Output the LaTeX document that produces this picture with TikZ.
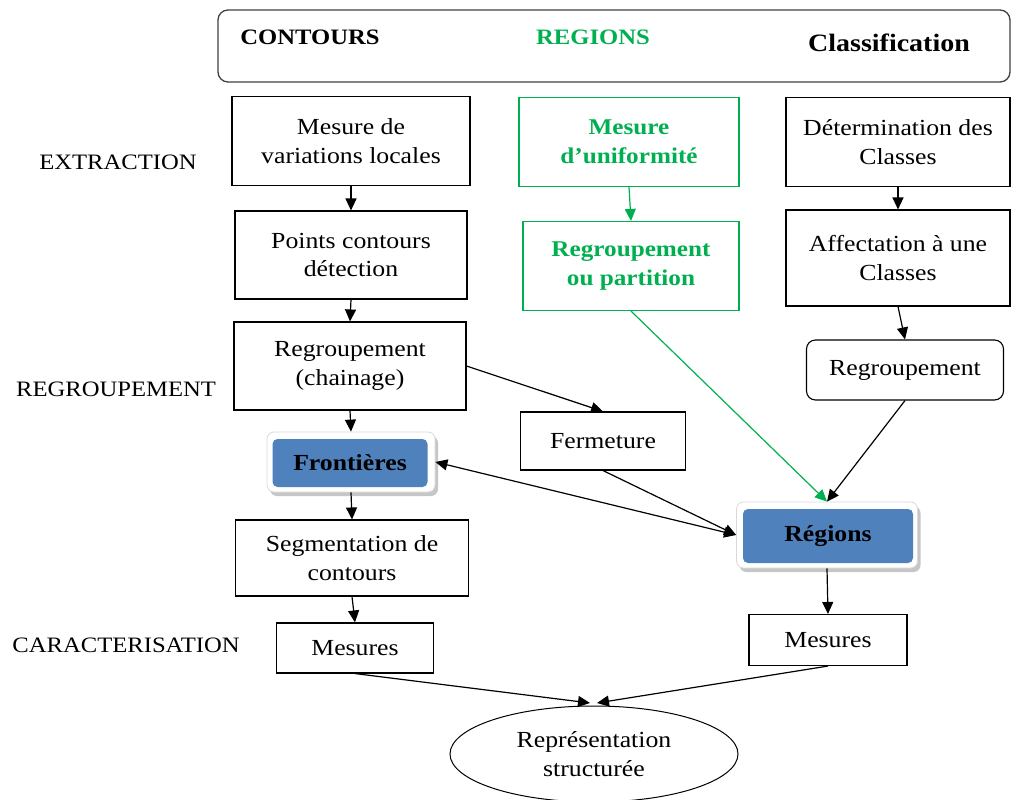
\documentclass[tikz,border=0pt]{standalone}
\usepackage{fontspec}
\setmainfont{Liberation Serif}[FakeStretch=1.12]
\usetikzlibrary{arrows.meta,shadows,shapes.geometric}
\definecolor{grn}{HTML}{00B050}
\definecolor{blu}{HTML}{4F81BD}
\begin{document}
\begin{tikzpicture}[x=1pt,y=-1pt,
  every node/.style={font=\fontsize{23}{28.5}\selectfont, align=center, inner sep=0pt},
  wh/.style 2 args={minimum width=#1pt, minimum height=#2pt},
  box/.style={draw, line width=1.1pt},
  gbox/.style={draw=grn, line width=1.1pt, text=grn, font=\fontsize{22.5}{28.5}\selectfont\bfseries},
  rbox/.style={draw, line width=1.1pt, rounded corners=9pt},
  frame/.style={draw=gray!30, fill=white, line width=0.8pt, rounded corners=7pt,
    drop shadow={shadow xshift=3pt, shadow yshift=-4pt, opacity=0.45, fill=gray}},
  bluebox/.style={fill=blu, rounded corners=5pt, font=\fontsize{23}{28}\selectfont\bfseries},
  lbl/.style={font=\fontsize{22}{26}\selectfont},
  head/.style={font=\fontsize{22}{26}\selectfont\bfseries},
  arr/.style={-{Triangle[length=12pt,width=11pt]}, line width=1.2pt},
  garr/.style={arr, draw=grn, color=grn},
  darr/.style={{Triangle[length=12pt,width=11pt]}-{Triangle[length=12pt,width=11pt]}, line width=1.2pt}
]
\useasboundingbox (0,0) rectangle (1013,800);

% header band
\node[draw=black!75, line width=1.3pt, rounded corners=10pt, wh={792}{72}] (hdr) at (614,46) {};
\node[head] (hc) at (310,37) {CONTOURS};
\node[head, text=grn] (hr) at (593,37) {REGIONS};
\node[head, font=\fontsize{25}{28}\selectfont\bfseries] (hk) at (889,43) {Classification};

% stage labels
\node[lbl] (lext) at (118,162) {EXTRACTION};
\node[lbl] (lreg) at (116,389) {REGROUPEMENT};
\node[lbl] (lcar) at (126,645) {CARACTERISATION};

% contours column
\node[box, wh={238}{89}] (c1) at (351,141) {Mesure de\\variations locales};
\node[box, wh={232}{88}] (c2) at (351,255) {Points contours\\détection};
\node[box, wh={232}{88}] (c3) at (350,366) {Regroupement\\(chainage)};
\node[frame, wh={168}{60}] (front) at (351,462) {};
\node[bluebox, wh={155}{48}] (frontb) at (350,463) {Frontières};
\node[box, wh={233}{76}] (c5) at (352,558) {Segmentation de\\contours};
\node[box, wh={157}{50}] (c6) at (355,648) {Mesures};

% regions column
\node[gbox, wh={220}{89}] (g1) at (629,142) {Mesure\\d’uniformité};
\node[gbox, wh={216}{89}] (g2) at (631,266) {Regroupement\\ou partition};
\node[box, wh={165}{58}] (ferm) at (603,441) {Fermeture};

% classification column
\node[box, wh={224}{89}] (r1) at (898,142) {Détermination des\\Classes};
\node[box, wh={224}{96}] (r2) at (898,258) {Affectation à une\\Classes};
\node[rbox, wh={197}{60}] (r3) at (905,370) {Regroupement};
\node[frame, wh={181}{66}] (reg) at (827,535) {};
\node[bluebox, wh={170}{54}] (regb) at (828,536) {Régions};
\node[box, wh={158}{51}] (r5) at (828,640) {Mesures};

% final representation
\node[draw, line width=1pt, ellipse, wh={288}{96}] (rep) at (594,754) {Représentation\\structurée};
\coordinate (repl) at (590,703);
\coordinate (repr) at (597,703);

% contours flow
\draw[arr] (c1.south) -- (c2.north);
\draw[arr] (c2.south) -- (c3.north);
\draw[arr] (c3.south) -- (front.north);
\draw[arr] (front.south) -- (c5.north);
\draw[arr] (c5.south) -- (c6.north);
\draw[arr] (c3.east) -- (ferm.north);

% regions flow
\draw[garr] (g1.south) -- (g2.north);
\draw[garr] (g2.south) -- (reg.north);

% classification flow
\draw[arr] (r1.south) -- (r2.north);
\draw[arr] (r2.south) -- (r3.north);
\draw[arr] (r3.south) -- (reg.north);
\draw[arr] (reg.south) -- (r5.north);

% cross links
\draw[darr] (front.east) -- (reg.west);
\draw[arr] (ferm.south) -- (reg.west);

% to the structured representation
\draw[arr] (c6.south) -- (repl);
\draw[arr] (r5.south) -- (repr);
\end{tikzpicture}
\end{document}
